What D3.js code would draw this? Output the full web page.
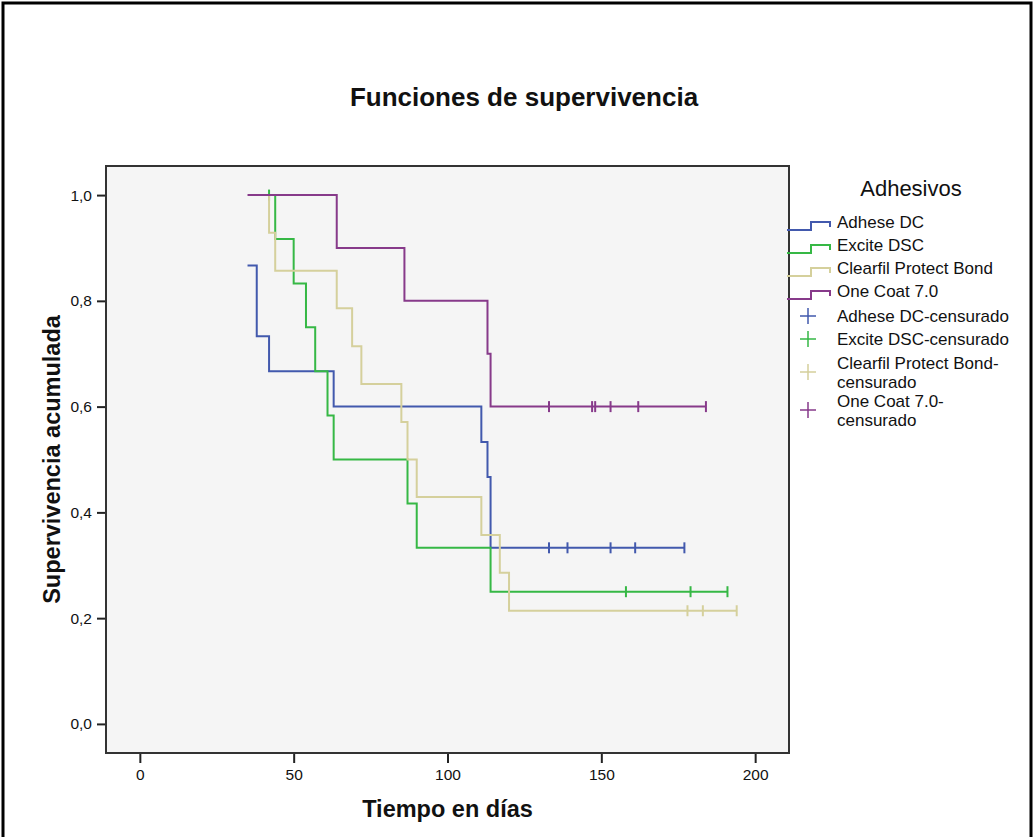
<!DOCTYPE html>
<html>
<head>
<meta charset="utf-8" />
<title>Funciones de supervivencia</title>
<script src="https://d3js.org/d3.v7.min.js"></script>
<style>
  body { margin: 0; background: #fff; }
  text { font-family: "Liberation Sans", Arial, sans-serif; fill: #111; }
</style>
</head>
<body>
<div id="chart"></div>
<script>
// groups
const groups = ['Adhese DC', 'Excite DSC', 'Clearfil Protect Bond', 'One Coat 7.0'];

// step points [tiempo, supervivencia]
const adheseSteps = [[35, 0.867], [38, 0.733], [42, 0.667], [63, 0.6], [111, 0.533], [113, 0.467], [114, 0.333], [177, 0.333]];
const exciteSteps = [[42, 1], [44, 0.917], [50, 0.833], [54, 0.75], [57, 0.667], [61, 0.583], [63, 0.5], [87, 0.417], [90, 0.333], [114, 0.25], [191, 0.25]];
const clearfilSteps = [[42, 1], [42, 0.929], [44, 0.857], [64, 0.786], [69, 0.714], [72, 0.643], [85, 0.571], [87, 0.5], [90, 0.429], [111, 0.357], [117, 0.286], [120, 0.214], [194, 0.214]];
const onecoatSteps = [[35, 1], [64, 0.9], [86, 0.8], [113, 0.7], [114, 0.6], [184, 0.6]];

// censored times
const adheseCens = [133, 139, 153, 161, 177];
const exciteCens = [42, 158, 179, 191];
const clearfilCens = [178, 183, 194];
const onecoatCens = [133, 147, 148, 153, 162, 184];

// ticks
const xTicks = [0, 50, 100, 150, 200];
const yTicks = [0, 0.2, 0.4, 0.6, 0.8, 1.0];

const steps = [adheseSteps, exciteSteps, clearfilSteps, onecoatSteps];
const cens = [adheseCens, exciteCens, clearfilCens, onecoatCens];
const colors = ['#4259ad', '#36b845', '#d5d09c', '#873a8a'];

const width = 1035;
const height = 837;
const plot = { left: 106, right: 789, top: 166, bottom: 753 };

const svg = d3.select('#chart')
  .append('svg')
  .attr('width', width)
  .attr('height', height);

// outer frame
svg.append('rect')
  .attr('x', 3).attr('y', 3)
  .attr('width', 1028).attr('height', 900)
  .attr('fill', 'none')
  .attr('stroke', '#000')
  .attr('stroke-width', 3);

const x = d3.scaleLinear().domain([-11, 211]).range([plot.left, plot.right]);
const y = d3.scaleLinear().domain([-0.055, 1.055]).range([plot.bottom, plot.top]);

// title
svg.append('text')
  .attr('x', 524)
  .attr('y', 106)
  .attr('text-anchor', 'middle')
  .style('font-size', '26px')
  .style('font-weight', 'bold')
  .text('Funciones de supervivencia');

// plot background
svg.append('rect')
  .attr('x', plot.left).attr('y', plot.top)
  .attr('width', plot.right - plot.left)
  .attr('height', plot.bottom - plot.top)
  .attr('fill', '#f5f5f5');

// axes
const xAxis = svg.append('g')
  .attr('transform', `translate(0,${plot.bottom})`)
  .call(d3.axisBottom(x).tickValues(xTicks).tickSize(10).tickPadding(6).tickFormat(d3.format('d')));

const yAxis = svg.append('g')
  .attr('transform', `translate(${plot.left},0)`)
  .call(d3.axisLeft(y).tickValues(yTicks).tickSize(9).tickPadding(5)
    .tickFormat(d => d3.format('.1f')(d).replace('.', ',')));

[xAxis, yAxis].forEach(a => {
  a.select('.domain').remove();
  a.selectAll('.tick line').attr('stroke', '#222').attr('stroke-width', 2);
  a.selectAll('.tick text').style('font-size', '15.5px').style('font-family', '"Liberation Sans", Arial, sans-serif').attr('fill', '#222');
});

// curves
const line = d3.line()
  .x(d => x(d[0]))
  .y(d => y(d[1]))
  .curve(d3.curveStepAfter);

// survival value at a censored time (first point at that time)
function survAt(s, t) {
  let v = s[0][1];
  for (let k = 0; k < s.length; k++) {
    if (s[k][0] > t) break;
    if (k > 0 && s[k][0] === s[k - 1][0]) continue;
    v = s[k][1];
  }
  return v;
}

steps.forEach((s, i) => {
  svg.append('path')
    .datum(s)
    .attr('d', line)
    .attr('fill', 'none')
    .attr('stroke', colors[i])
    .attr('stroke-width', 2);

  svg.append('g').selectAll('line')
    .data(cens[i])
    .enter()
    .append('line')
    .attr('x1', d => x(d)).attr('x2', d => x(d))
    .attr('y1', d => y(survAt(s, d)) - 5.5)
    .attr('y2', d => y(survAt(s, d)) + 5.5)
    .attr('stroke', colors[i])
    .attr('stroke-width', 2);
});

// plot frame
svg.append('rect')
  .attr('x', plot.left).attr('y', plot.top)
  .attr('width', plot.right - plot.left)
  .attr('height', plot.bottom - plot.top)
  .attr('fill', 'none')
  .attr('stroke', '#333')
  .attr('stroke-width', 2);

// axis titles
svg.append('text')
  .attr('x', (plot.left + plot.right) / 2)
  .attr('y', 817)
  .attr('text-anchor', 'middle')
  .style('font-size', '23.5px')
  .style('font-weight', 'bold')
  .text('Tiempo en días');

svg.append('text')
  .attr('transform', `translate(60,${(plot.top + plot.bottom) / 2}) rotate(-90)`)
  .attr('text-anchor', 'middle')
  .style('font-size', '23.5px')
  .style('font-weight', 'bold')
  .text('Supervivencia acumulada');

// legend
const legend = svg.append('g');
legend.append('text')
  .attr('x', 911).attr('y', 196)
  .attr('text-anchor', 'middle')
  .style('font-size', '22px')
  .text('Adhesivos');

const lineRows = [222, 245, 268, 291];
groups.forEach((g, i) => {
  const cy = lineRows[i];
  legend.append('path')
    .attr('d', `M787,${cy + 8}H811V${cy}H830V${cy + 5}`)
    .attr('fill', 'none')
    .attr('stroke', colors[i])
    .attr('stroke-width', 2);
  legend.append('text')
    .attr('x', 837).attr('y', cy + 6)
    .style('font-size', '17px')
    .text(g);
});

const censRows = [
  { cy: 316, lines: ['Adhese DC-censurado'] },
  { cy: 339, lines: ['Excite DSC-censurado'] },
  { cy: 372, lines: ['Clearfil Protect Bond-', 'censurado'] },
  { cy: 410, lines: ['One Coat 7.0-', 'censurado'] }
];
censRows.forEach((r, i) => {
  legend.append('path')
    .attr('d', `M800,${r.cy}H816M808,${r.cy - 8}V${r.cy + 8}`)
    .attr('stroke', colors[i])
    .attr('stroke-width', 1.5);
  const t = legend.append('text')
    .attr('x', 837)
    .attr('y', r.cy + 6 - (r.lines.length - 1) * 9.5)
    .style('font-size', '17px');
  r.lines.forEach((l, j) => {
    t.append('tspan').attr('x', 837).attr('dy', j === 0 ? 0 : 19).text(l);
  });
});
</script>
</body>
</html>
